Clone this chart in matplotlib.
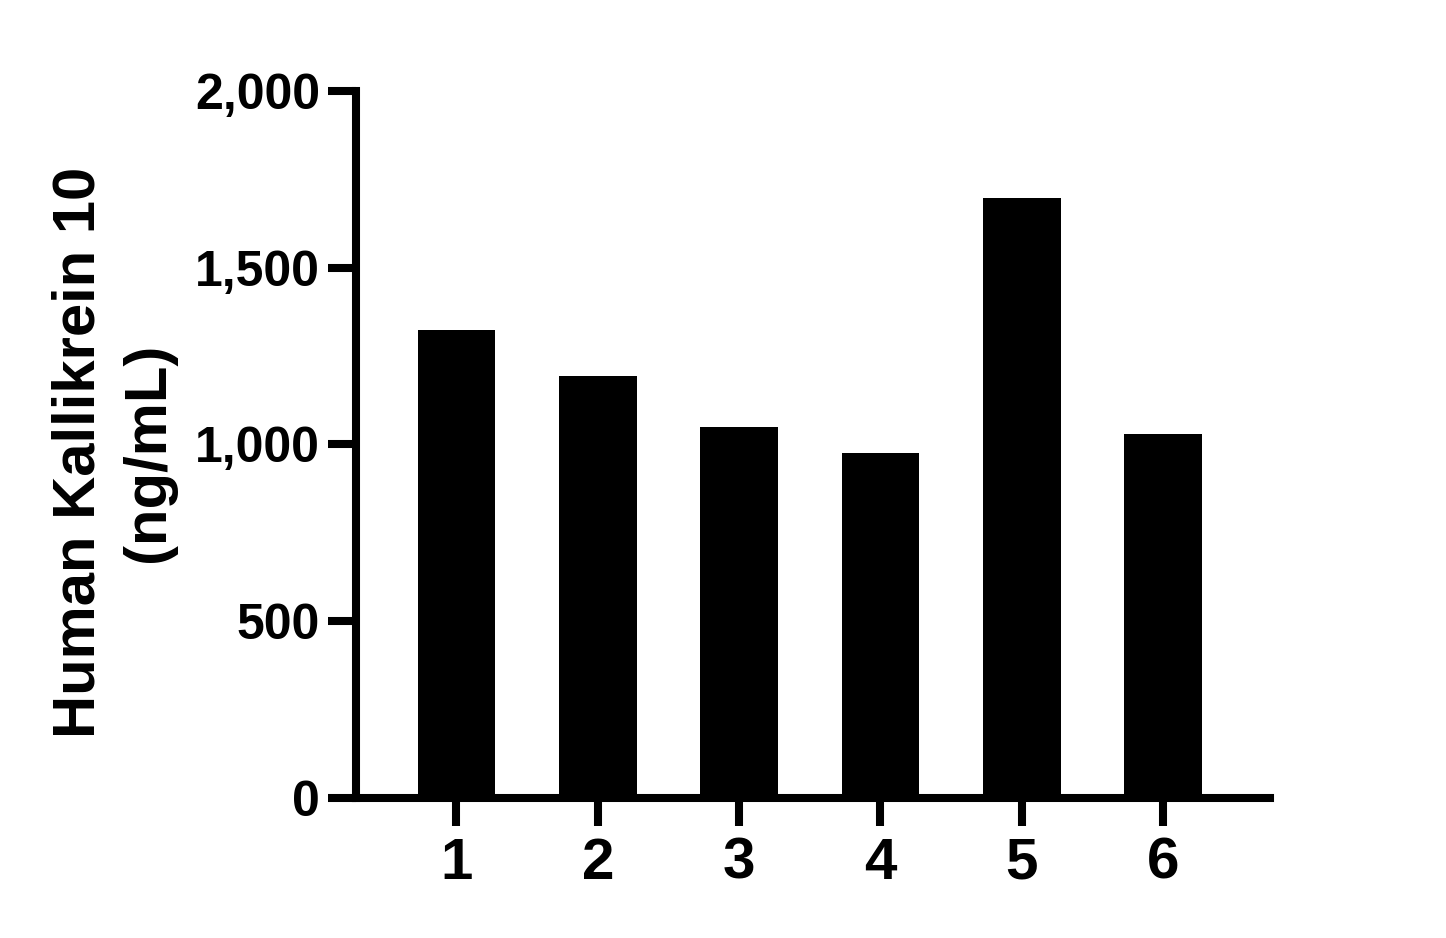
import matplotlib
matplotlib.use('Agg')
import matplotlib.pyplot as plt
from matplotlib.ticker import StrMethodFormatter

# values
samples = [1, 2, 3, 4, 5, 6]
kallikrein = [1324, 1194, 1050, 977, 1697, 1030]
y_ticks = [0, 500, 1000, 1500, 2000]

plt.rcParams['font.family'] = ['Liberation Sans', 'DejaVu Sans']
plt.rcParams['font.weight'] = 'bold'

fig = plt.figure(figsize=(14.46, 9.38), dpi=100)
ax = fig.add_axes([0.2462, 0.1493, 0.8783 - 0.2462, 0.903 - 0.1493])

ax.bar(samples, kallikrein, width=0.55, color='black', edgecolor='none')

ax.set_xlim(0.289, 6.757)
ax.set_ylim(0, 2000)
ax.set_xticks(samples)
ax.set_yticks(y_ticks)
ax.yaxis.set_major_formatter(StrMethodFormatter('{x:,.0f}'))

for side in ['top', 'right']:
    ax.spines[side].set_visible(False)
for side in ['left', 'bottom']:
    ax.spines[side].set_linewidth(5.8)
    ax.spines[side].set_capstyle('projecting')

ax.tick_params(axis='both', length=20, width=5.8, color='black')
ax.tick_params(axis='x', labelsize=42, pad=8)
ax.tick_params(axis='y', labelsize=36, pad=6)
for lab in ax.get_xticklabels() + ax.get_yticklabels():
    lab.set_fontweight('bold')

fig.text(114 / 1446, 1 - 452 / 938, 'Human Kallikrein 10\n(ng/mL)',
         rotation=90, ha='center', va='center', fontsize=43,
         fontweight='bold', linespacing=1.34)

fig.savefig('out.png', dpi=100)
